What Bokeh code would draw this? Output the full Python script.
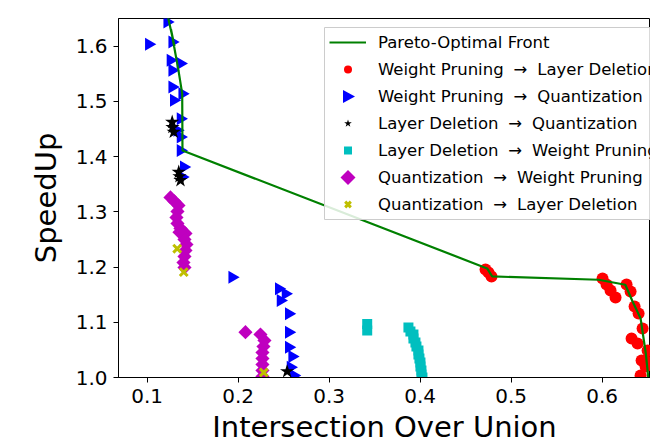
import numpy as np
from bokeh.plotting import figure
from bokeh.models import (Range1d, FixedTicker, PrintfTickFormatter, Legend, LegendItem,
                          PolyAnnotation, BoxAnnotation)
from bokeh.embed import file_html
from bokeh.resources import INLINE

# ---- data ----
x_ticks = [0.1, 0.2, 0.3, 0.4, 0.5, 0.6]
y_ticks = [1.0, 1.1, 1.2, 1.3, 1.4, 1.5, 1.6]

pareto_x = [0.119, 0.1234, 0.1300, 0.1262, 0.1344, 0.1385, 0.1388, 0.4736, 0.4791,
            0.5960, 0.6254, 0.6333, 0.6422, 0.6480, 0.6515]
pareto_y = [1.700, 1.6486, 1.600, 1.630, 1.556, 1.514, 1.411, 1.1975, 1.183,
            1.177, 1.168, 1.138, 1.107, 1.043, 0.986]

wp_ld_x = [0.4718, 0.4751, 0.4784, 0.6004, 0.6048, 0.6092, 0.6147, 0.6268, 0.6312,
           0.6356, 0.6400, 0.6444, 0.6323, 0.6389, 0.6433, 0.6477, 0.6422, 0.6477, 0.6499]
wp_ld_y = [1.1957, 1.1900, 1.1830, 1.1793, 1.1685, 1.1576, 1.1449, 1.1685, 1.1558,
           1.1286, 1.1159, 1.0888, 1.0707, 1.0616, 1.0308, 1.0199, 1.0036, 1.0308, 1.0490]

wp_q_x = [0.1220, 0.1018, 0.1275, 0.1256, 0.1366, 0.1275, 0.1275, 0.1385, 0.1292,
          0.1366, 0.1330, 0.1366, 0.1366, 0.1402, 0.1385, 0.1934, 0.2446, 0.2520,
          0.2465, 0.2556, 0.2556, 0.2556, 0.2593, 0.2575, 0.2611]
wp_q_y = [1.6437, 1.6033, 1.6074, 1.5743, 1.5683, 1.5562, 1.5259, 1.5139, 1.5018,
          1.4687, 1.4475, 1.4353, 1.4112, 1.3810, 1.3629, 1.1817, 1.1607, 1.1516,
          1.1395, 1.1154, 1.0821, 1.0549, 1.0380, 1.0187, 1.0036]

ld_q_x = [0.1275, 0.1292, 0.1278, 0.1347, 0.1366, 0.1355, 0.2538]
ld_q_y = [1.4625, 1.4444, 1.4530, 1.3719, 1.3569, 1.3640, 1.0109]

ld_wp_x = [0.3418, 0.3418, 0.3871, 0.3893, 0.3926, 0.3926, 0.3948, 0.3959, 0.3981,
           0.3981, 0.3992, 0.4003, 0.4003, 0.4014, 0.4014, 0.4025]
ld_wp_y = [1.0969, 1.0851, 1.0906, 1.0833, 1.0779, 1.0707, 1.0634, 1.0562, 1.0489,
           1.0417, 1.0344, 1.0272, 1.0199, 1.0127, 1.0054, 1.0000]

q_wp_x = [0.1256, 0.1300, 0.1344, 0.1333, 0.1322, 0.1333, 0.1366, 0.1421, 0.1410,
          0.1432, 0.1421, 0.1410, 0.1399, 0.1410, 0.1355,
          0.2080, 0.2245, 0.2289, 0.2278, 0.2267, 0.2267, 0.2267, 0.2267, 0.2267]
q_wp_y = [1.3261, 1.3188, 1.3116, 1.3007, 1.2899, 1.2790, 1.2699, 1.2609, 1.2500,
          1.2409, 1.2301, 1.2192, 1.2083, 1.1993, 1.2630,
          1.0821, 1.0779, 1.0670, 1.0562, 1.0453, 1.0344, 1.0236, 1.0127, 1.0018]

q_ld_x = [0.1330, 0.1402, 0.2281]
q_ld_y = [1.2332, 1.1908, 1.0091]

ARR = "\u2002\u200a\u2192\u2002\u200a"
labels = ["Pareto-Optimal Front",
          "Weight Pruning" + ARR + "Layer Deletion",
          "Weight Pruning" + ARR + "Quantization",
          "Layer Deletion" + ARR + "Quantization",
          "Layer Deletion" + ARR + "Weight Pruning",
          "Quantization" + ARR + "Weight Pruning",
          "Quantization" + ARR + "Layer Deletion"]

FONT = "DejaVu Sans"
BLUE, MAGENTA = "#0000FF", "#BF00BF"

p = figure(width=650, height=446, output_backend="svg", toolbar_location=None,
           x_range=Range1d(0.0685, 0.6531), y_range=Range1d(1.0, 1.650),
           min_border_left=118, min_border_top=18, min_border_right=0,
           min_border_bottom=0)
p.background_fill_color = "white"
p.border_fill_color = "white"
p.outline_line_color = "black"
p.outline_line_width = 1
p.xgrid.visible = False
p.ygrid.visible = False

r1 = p.scatter(wp_ld_x, wp_ld_y, marker="circle", size=12, color="#FF0000", line_color=None)
r2 = p.scatter(wp_q_x, wp_q_y, marker="triangle", size=13, angle=-np.pi / 2,
               color=BLUE, line_color=None)
r3 = p.scatter(ld_q_x, ld_q_y, marker="star", size=15, color="black", line_color=None)
r4 = p.scatter(ld_wp_x, ld_wp_y, marker="square", size=10, color="#00BFBF", line_color=None)
r5 = p.scatter(q_wp_x, q_wp_y, marker="square", size=10, angle=np.pi / 4,
               color=MAGENTA, line_color=None)
r6 = p.scatter(q_ld_x, q_ld_y, marker="x", size=11, line_color="#BFBF00", line_width=3)
r0 = p.line(pareto_x, pareto_y, line_color="#008000", line_width=2.2)
# legend-only placeholder (swatches for rotated markers drawn below)
blank = p.scatter([], [], marker="circle", size=1, fill_alpha=0, line_alpha=0)

for ax, ticks, lab, stand in ((p.xaxis[0], x_ticks, "Intersection Over Union", 4),
                              (p.yaxis[0], y_ticks, "SpeedUp", 10)):
    ax.ticker = FixedTicker(ticks=ticks)
    ax.formatter = PrintfTickFormatter(format="%.1f")
    ax.minor_tick_line_color = None
    ax.major_tick_in = 0
    ax.major_tick_out = 5
    ax.major_tick_line_color = "black"
    ax.axis_line_color = "black"
    ax.major_label_text_font = FONT
    ax.major_label_text_font_size = "20px"
    ax.major_label_text_color = "black"
    ax.major_label_standoff = 6
    ax.axis_label = lab
    ax.axis_label_text_font = FONT
    ax.axis_label_text_font_size = "29px"
    ax.axis_label_text_font_style = "normal"
    ax.axis_label_text_color = "black"
    ax.axis_label_standoff = stand

LEG_X, LEG_Y, PAD, ROW_H, SPACING, GW = 206, 158, 5, 20, 7, 37
n_items = 7
leg_top = LEG_Y + 2 * PAD + n_items * ROW_H + (n_items - 1) * SPACING
cx = LEG_X + PAD + GW / 2

# legend background box (drawn under the legend swatches)
p.add_layout(BoxAnnotation(left=LEG_X, right=LEG_X + 600, bottom=LEG_Y, top=leg_top,
                           left_units="screen", right_units="screen",
                           bottom_units="screen", top_units="screen",
                           fill_color="white", fill_alpha=0.85,
                           line_color="#cccccc", line_width=1, line_alpha=1))


def row_cy(k):
    return leg_top - PAD - ROW_H / 2 - k * (ROW_H + SPACING)


cy = row_cy(2)
p.add_layout(PolyAnnotation(xs=[cx - 5, cx - 5, cx + 7], ys=[cy + 6.5, cy - 6.5, cy],
                            xs_units="screen", ys_units="screen",
                            fill_color=BLUE, fill_alpha=1, line_color=None))
cy = row_cy(5)
p.add_layout(PolyAnnotation(xs=[cx, cx + 7.5, cx, cx - 7.5], ys=[cy + 7.5, cy, cy - 7.5, cy],
                            xs_units="screen", ys_units="screen",
                            fill_color=MAGENTA, fill_alpha=1, line_color=None))

legend = Legend(items=[LegendItem(label=l, renderers=[r]) for l, r in
                       zip(labels, [r0, r1, blank, r3, r4, blank, r6])],
                location=(LEG_X, LEG_Y), margin=0, padding=PAD, spacing=SPACING,
                glyph_width=GW, glyph_height=ROW_H, label_height=ROW_H, label_standoff=12,
                label_text_font=FONT, label_text_font_size="16.5px",
                label_text_color="black", border_line_color="#cccccc",
                border_line_width=1, border_line_alpha=0,
                background_fill_alpha=0)
p.add_layout(legend, "center")

open("out.html", "w").write(file_html(p, INLINE))
